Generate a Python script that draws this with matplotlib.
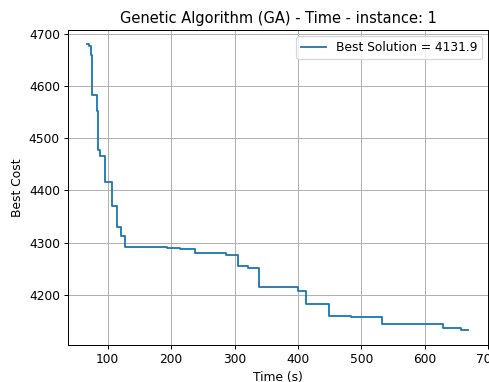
import matplotlib
matplotlib.use('Agg')
import matplotlib.pyplot as plt
import numpy as np

# time (s) at which the best cost improved, and the new best cost
times = [68, 71, 73, 75, 83, 85, 88, 96, 106, 114, 120.5, 127, 193, 214,
         237.5, 287, 305, 321, 338, 400, 413, 448.5, 484, 533.5, 629, 657, 669]
costs = [4680, 4677, 4660, 4584, 4552, 4478, 4466, 4417, 4370, 4329, 4313, 4292,
         4289, 4287, 4280.5, 4276, 4255, 4250.4, 4214, 4208, 4183, 4158.5, 4157,
         4143, 4137, 4131.9, 4131.9]
best = 4131.9

dpi = 88
fig = plt.figure(figsize=(489 / dpi, 382 / dpi), dpi=dpi)
fig.subplots_adjust(left=0.140, right=0.998, top=0.921, bottom=0.098)
ax = plt.gca()
ax.plot(times, costs, drawstyle='steps-post', label='Best Solution = %.1f' % best)
ax.set_xlim(38, 700)
ax.set_title('Genetic Algorithm (GA) - Time - instance: 1')
ax.set_xlabel('Time (s)')
ax.set_ylabel('Best Cost')
ax.grid(True)
ax.legend(loc='upper right')
plt.savefig('out.png', dpi=dpi)
